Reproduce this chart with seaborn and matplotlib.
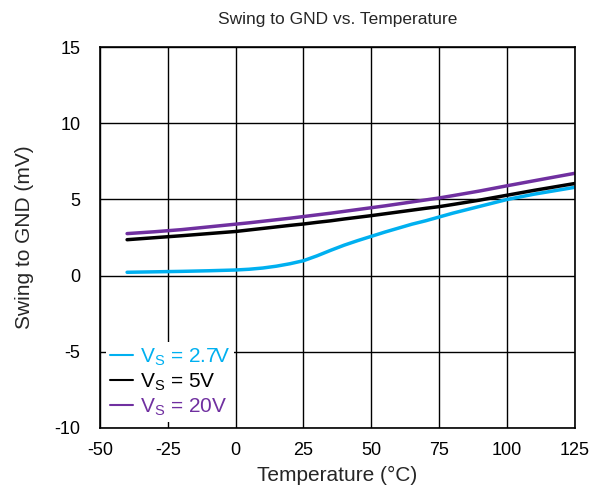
import matplotlib

matplotlib.use("Agg")
import matplotlib.pyplot as plt
import pandas as pd
import seaborn as sns

# Temperature points (°C) and swing to GND (mV)
temps = [-40, -30, -20, -10, 0, 5, 10, 15, 20, 25, 30, 35, 40, 45, 50,
         55, 60, 65, 70, 75, 80, 90, 100, 110, 125]
vs_2p7 = [0.22, 0.25, 0.28, 0.32, 0.37, 0.42, 0.5, 0.62, 0.78, 0.98, 1.3, 1.66, 2.0,
          2.3, 2.58, 2.86, 3.12, 3.38, 3.6, 3.85, 4.1, 4.55, 5.0, 5.35, 5.8]
vs_5 = [2.36, 2.49, 2.62, 2.76, 2.9, 3.0, 3.1, 3.2, 3.3, 3.39, 3.5, 3.6, 3.72,
        3.83, 3.94, 4.06, 4.18, 4.3, 4.42, 4.53, 4.67, 4.96, 5.28, 5.6, 6.05]
vs_20 = [2.76, 2.88, 3.02, 3.2, 3.38, 3.47, 3.57, 3.67, 3.77, 3.88, 3.99, 4.1, 4.22,
         4.34, 4.46, 4.58, 4.71, 4.84, 4.97, 5.1, 5.25, 5.56, 5.9, 6.23, 6.72]

labels = [r"V$_\mathregular{S}$ = 2.7V", r"V$_\mathregular{S}$ = 5V", r"V$_\mathregular{S}$ = 20V"]
colors = ["#00b0f0", "#000000", "#7030a0"]

data = pd.concat(
    [
        pd.DataFrame({"temp": temps, "swing": vals, "series": lab})
        for vals, lab in zip([vs_2p7, vs_5, vs_20], labels)
    ]
)

sns.set_style("white")
plt.rcParams["font.family"] = ["Liberation Sans", "DejaVu Sans"]
plt.rcParams["mathtext.fontset"] = "custom"
plt.rcParams["mathtext.rm"] = "Liberation Sans"
plt.rcParams["axes.unicode_minus"] = False

fig = plt.figure(figsize=(5.95, 4.97), dpi=100)
ax = fig.add_axes([0.168, 0.139, 0.798, 0.766])

sns.lineplot(
    data=data,
    x="temp",
    y="swing",
    hue="series",
    palette=dict(zip(labels, colors)),
    linewidth=2.5,
    ax=ax,
)

ax.set_xlim(-50, 125)
ax.set_ylim(-10, 15)
ax.set_xticks(range(-50, 126, 25))
ax.set_yticks(range(-10, 16, 5))
ax.grid(True, color="black", linewidth=1)
ax.set_axisbelow(True)
for spine in ax.spines.values():
    spine.set_color("black")
    spine.set_linewidth(1.2)
ax.tick_params(labelsize=13, colors="black", length=0)
ax.tick_params(axis="y", pad=14)
ax.tick_params(axis="x", pad=10)

ax.set_xlabel("Temperature (°C)", fontsize=15, labelpad=5)
ax.set_ylabel("Swing to GND (mV)", fontsize=15, labelpad=15)
ax.set_title("Swing to GND vs. Temperature", fontsize=12.5, pad=17)

leg = ax.legend(
    loc="lower left",
    frameon=True,
    fontsize=15,
    handlelength=1.1,
    handletextpad=0.3,
    labelspacing=0.15,
    borderaxespad=0.3,
    borderpad=0.2,
)
leg.get_frame().set_facecolor("white")
leg.get_frame().set_edgecolor("none")
leg.get_frame().set_alpha(1)
for text, c in zip(leg.get_texts(), colors):
    text.set_color(c)
for line in leg.get_lines():
    line.set_linewidth(1.5)

fig.savefig("out.png", dpi=100)
